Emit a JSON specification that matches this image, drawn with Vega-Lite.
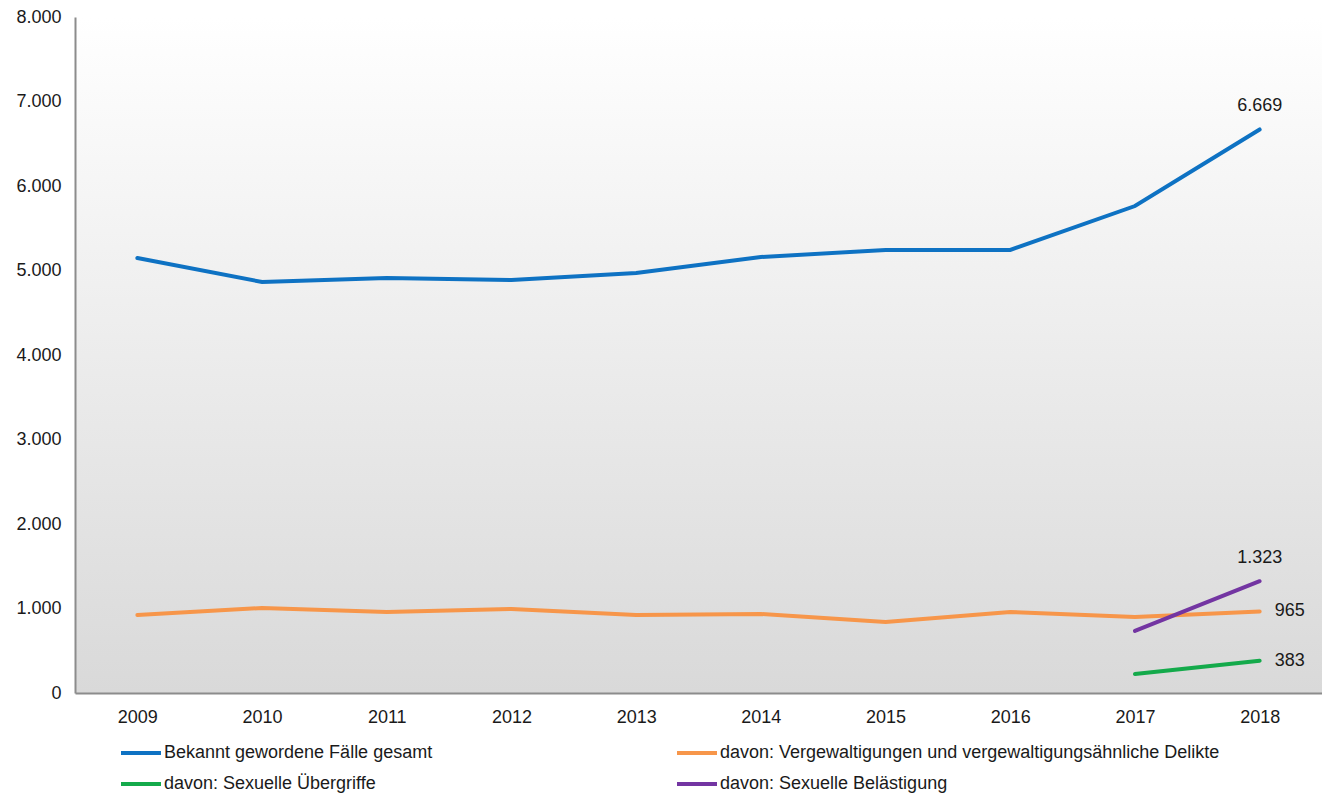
{
  "$schema": "https://vega.github.io/schema/vega-lite/v6.json",
  "autosize": "none",
  "width": 1247,
  "height": 676,
  "padding": {"left": 75, "top": 17, "right": 0, "bottom": 102},
  "background": "#ffffff",
  "config": {
    "locale": {"number": {"decimal": ",", "thousands": ".", "grouping": [3], "currency": ["", " €"]}},
    "font": "Liberation Sans",
    "view": {
      "stroke": null,
      "fill": {"gradient": "linear", "x1": 0, "y1": 0, "x2": 0, "y2": 1, "stops": [{"offset": 0, "color": "#ffffff"}, {"offset": 1, "color": "#d9d9d9"}]}
    }
  },
  "data": {"values": [
    {"year": "2009", "series": "Bekannt gewordene Fälle gesamt", "value": 5148},
    {"year": "2010", "series": "Bekannt gewordene Fälle gesamt", "value": 4864},
    {"year": "2011", "series": "Bekannt gewordene Fälle gesamt", "value": 4911},
    {"year": "2012", "series": "Bekannt gewordene Fälle gesamt", "value": 4888},
    {"year": "2013", "series": "Bekannt gewordene Fälle gesamt", "value": 4970},
    {"year": "2014", "series": "Bekannt gewordene Fälle gesamt", "value": 5160},
    {"year": "2015", "series": "Bekannt gewordene Fälle gesamt", "value": 5243},
    {"year": "2016", "series": "Bekannt gewordene Fälle gesamt", "value": 5243},
    {"year": "2017", "series": "Bekannt gewordene Fälle gesamt", "value": 5763},
    {"year": "2018", "series": "Bekannt gewordene Fälle gesamt", "value": 6669},
    {"year": "2009", "series": "davon: Vergewaltigungen und vergewaltigungsähnliche Delikte", "value": 923},
    {"year": "2010", "series": "davon: Vergewaltigungen und vergewaltigungsähnliche Delikte", "value": 1006},
    {"year": "2011", "series": "davon: Vergewaltigungen und vergewaltigungsähnliche Delikte", "value": 959},
    {"year": "2012", "series": "davon: Vergewaltigungen und vergewaltigungsähnliche Delikte", "value": 994},
    {"year": "2013", "series": "davon: Vergewaltigungen und vergewaltigungsähnliche Delikte", "value": 923},
    {"year": "2014", "series": "davon: Vergewaltigungen und vergewaltigungsähnliche Delikte", "value": 935},
    {"year": "2015", "series": "davon: Vergewaltigungen und vergewaltigungsähnliche Delikte", "value": 840},
    {"year": "2016", "series": "davon: Vergewaltigungen und vergewaltigungsähnliche Delikte", "value": 959},
    {"year": "2017", "series": "davon: Vergewaltigungen und vergewaltigungsähnliche Delikte", "value": 899},
    {"year": "2018", "series": "davon: Vergewaltigungen und vergewaltigungsähnliche Delikte", "value": 965},
    {"year": "2017", "series": "davon: Sexuelle Übergriffe", "value": 225},
    {"year": "2018", "series": "davon: Sexuelle Übergriffe", "value": 383},
    {"year": "2017", "series": "davon: Sexuelle Belästigung", "value": 734},
    {"year": "2018", "series": "davon: Sexuelle Belästigung", "value": 1323}
  ]},
  "encoding": {
    "x": {"field": "year", "type": "ordinal", "title": null,
      "axis": {"labelAngle": 0, "ticks": false, "domainColor": "#8c8c8c", "domainWidth": 2, "labelFontSize": 18, "labelColor": "#1a1a1a", "labelPadding": 15, "grid": false}},
    "y": {"field": "value", "type": "quantitative", "title": null,
      "scale": {"domain": [0, 8000], "nice": false},
      "axis": {"values": [0, 1000, 2000, 3000, 4000, 5000, 6000, 7000, 8000], "format": ",d", "ticks": false, "domainColor": "#8c8c8c", "domainWidth": 2, "labelFontSize": 18, "labelColor": "#1a1a1a", "labelPadding": 14, "grid": false}}
  },
  "layer": [
    {
      "mark": {"type": "line", "strokeWidth": 4, "strokeCap": "round"},
      "encoding": {
        "color": {"field": "series", "type": "nominal",
          "scale": {"domain": ["Bekannt gewordene Fälle gesamt", "davon: Vergewaltigungen und vergewaltigungsähnliche Delikte", "davon: Sexuelle Übergriffe", "davon: Sexuelle Belästigung"],
                    "range": ["#0e72c3", "#f7964a", "#14aa4b", "#7335a2"]},
          "legend": {"title": null, "orient": "none", "legendX": 44, "legendY": 714, "direction": "horizontal", "columns": 2, "symbolType": "stroke", "symbolSize": 1600, "symbolStrokeWidth": 4, "labelFontSize": 18, "labelColor": "#1a1a1a", "labelLimit": 600, "columnPadding": 236, "rowPadding": -6, "labelOffset": 1}
        }
      }
    },
    {
      "transform": [{"filter": "datum.year == '2018' && (datum.series == 'Bekannt gewordene Fälle gesamt' || datum.series == 'davon: Sexuelle Belästigung')"}],
      "mark": {"type": "text", "dy": -23, "fontSize": 18, "color": "#1a1a1a"},
      "encoding": {"text": {"field": "value", "type": "quantitative", "format": ",d"}}
    },
    {
      "transform": [{"filter": "datum.year == '2018' && (datum.series == 'davon: Vergewaltigungen und vergewaltigungsähnliche Delikte' || datum.series == 'davon: Sexuelle Übergriffe')"}],
      "mark": {"type": "text", "dx": 15, "align": "left", "fontSize": 18, "color": "#1a1a1a"},
      "encoding": {"text": {"field": "value", "type": "quantitative", "format": ",d"}}
    }
  ]
}
